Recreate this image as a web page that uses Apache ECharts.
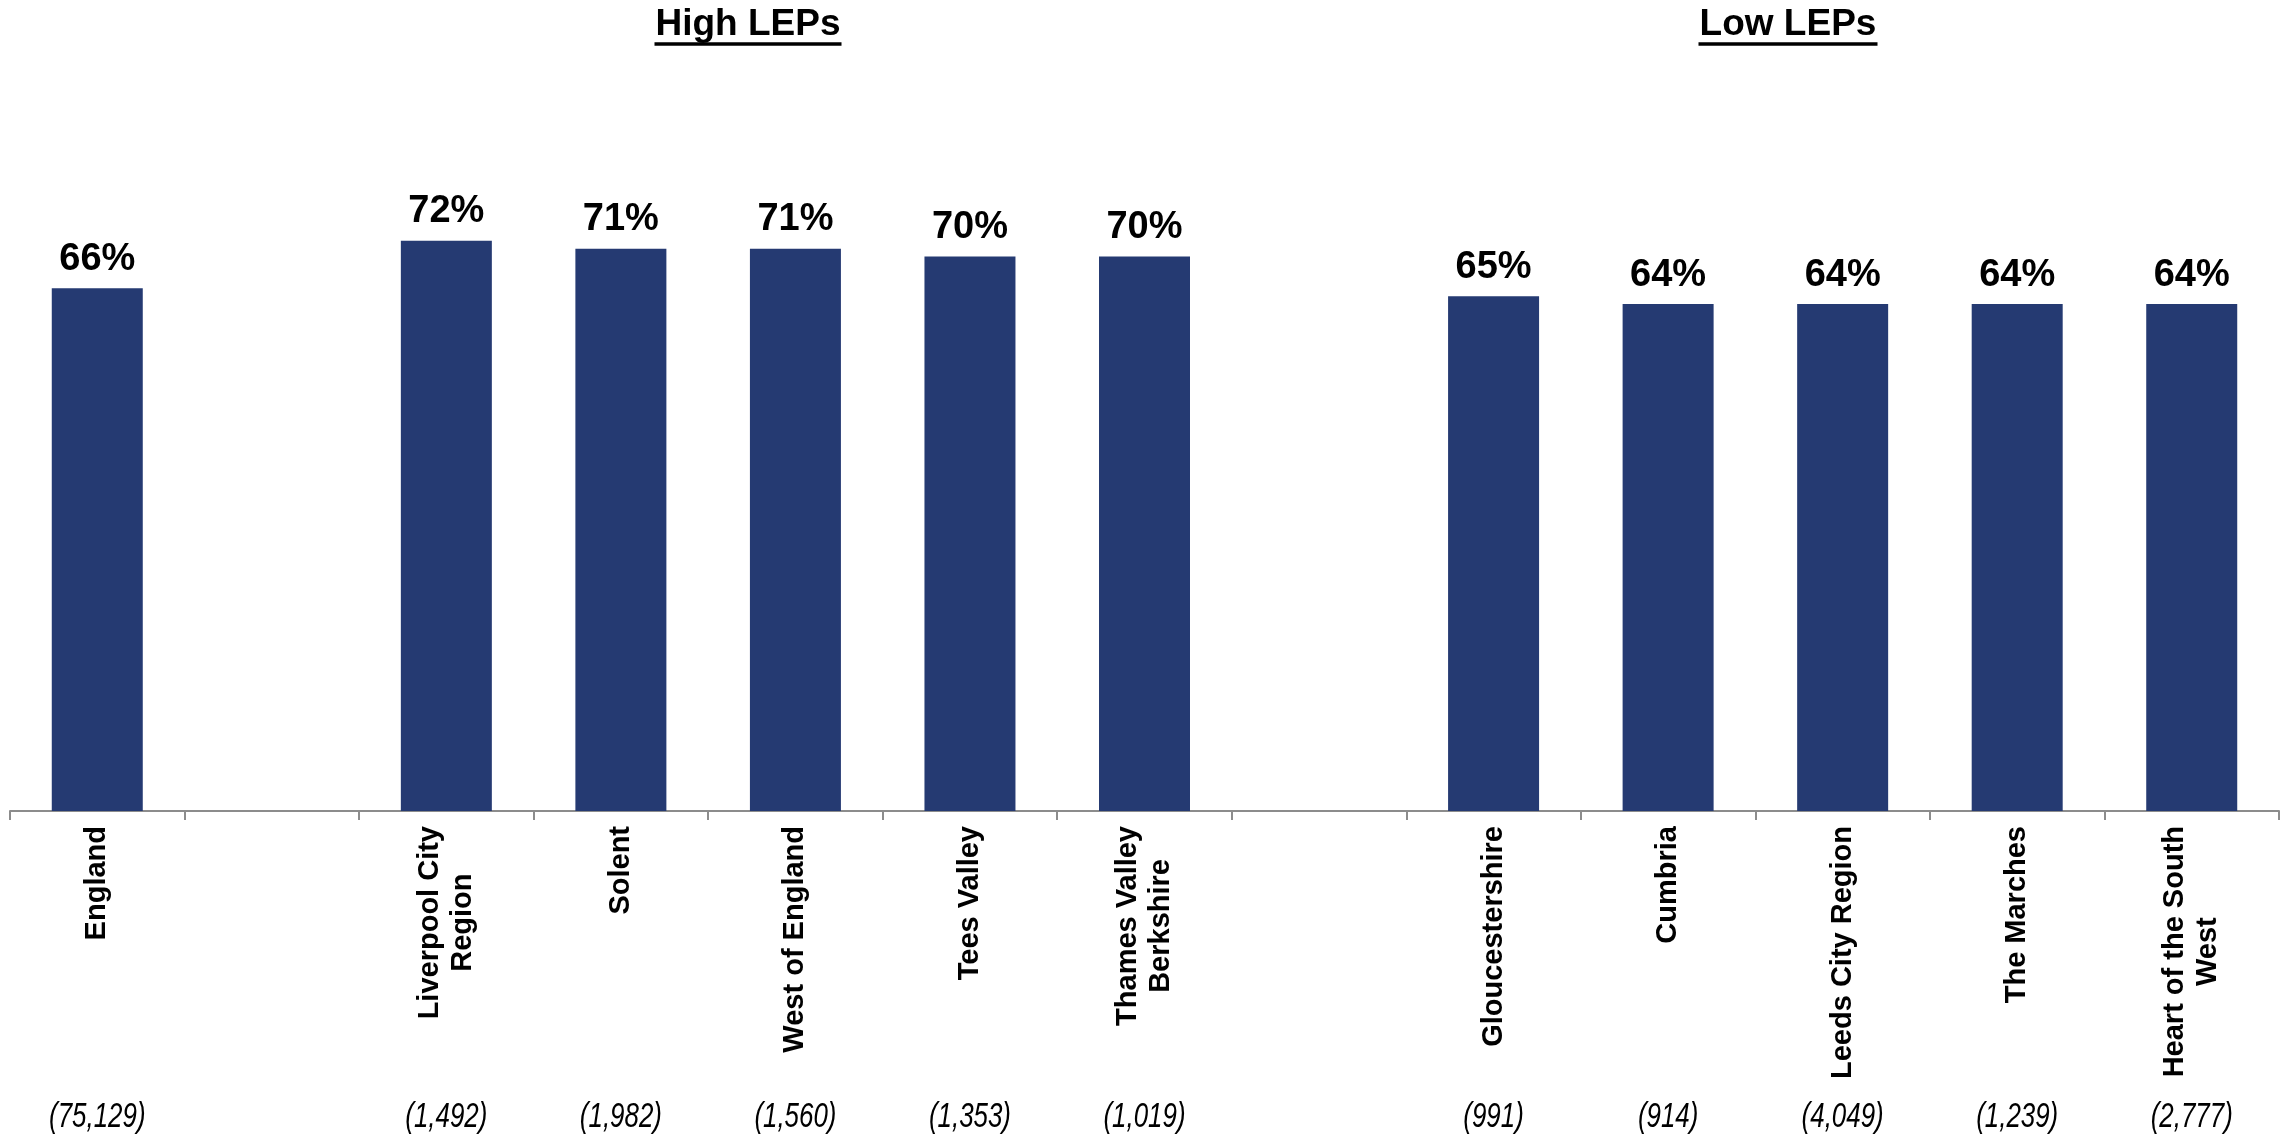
<!DOCTYPE html>
<html>
<head>
<meta charset="utf-8">
<script src="https://cdn.jsdelivr.net/npm/echarts@6/dist/echarts.min.js"></script>
<style>
  html, body { margin: 0; padding: 0; background: #ffffff; }
  #chart { width: 2283px; height: 1136px; }
</style>
</head>
<body>
<div id="chart"></div>
<script>
// Categories (empty entries are spacer slots between groups)
const categories = [
  'England', '',
  'Liverpool City\nRegion', 'Solent', 'West of England', 'Tees Valley', 'Thames Valley\nBerkshire', '',
  'Gloucestershire', 'Cumbria', 'Leeds City Region', 'The Marches', 'Heart of the South\nWest'
];
// Share (%) per category
const shares = [66, null, 72, 71, 71, 70, 70, null, 65, 64, 64, 64, 64];
// Base sizes shown under each category
const baseSizes = [
  '(75,129)', '',
  '(1,492)', '(1,982)', '(1,560)', '(1,353)', '(1,019)', '',
  '(991)', '(914)', '(4,049)', '(1,239)', '(2,777)'
];
// Group headings
const groupTitles = ['High LEPs', 'Low LEPs'];

const FONT = "'Liberation Sans', Arial, sans-serif";
const BAR = '#253a72';

const chart = echarts.init(document.getElementById('chart'), null, { renderer: 'canvas' });

function heading(text, cx, w) {
  return {
    type: 'group',
    children: [
      {
        type: 'text',
        x: cx, y: 25,
        style: {
          text: text, fill: '#000', font: 'bold 37px ' + FONT,
          textAlign: 'center', textVerticalAlign: 'middle'
        }
      },
      {
        type: 'line',
        shape: { x1: cx - w / 2, y1: 44, x2: cx + w / 2, y2: 44 },
        style: { stroke: '#000', lineWidth: 3.5 }
      }
    ]
  };
}

chart.setOption({
  animation: false,
  backgroundColor: '#ffffff',
  grid: { left: 10, right: 4, top: 19, bottom: 325, containLabel: false },
  xAxis: {
    type: 'category',
    data: categories,
    position: 'bottom',
    axisLine: { show: true, lineStyle: { color: '#8c8c8c', width: 2 } },
    axisTick: { show: true, length: 9, alignWithLabel: false, lineStyle: { color: '#8c8c8c', width: 2 } },
    axisLabel: {
      interval: 0,
      rotate: 90,
      margin: 15,
      color: '#000',
      fontFamily: FONT,
      fontWeight: 'bold',
      fontSize: 29,
      lineHeight: 33,
      formatter: function (v) {
        if (!v) return '';
        return v.split('\n').map(function (s) { return '{c|' + s + '}'; }).join('\n');
      },
      rich: {
        c: { align: 'center', fontFamily: FONT, fontWeight: 'bold', fontSize: 29, lineHeight: 33, color: '#000' }
      }
    },
    splitLine: { show: false }
  },
  yAxis: {
    type: 'value',
    min: 0,
    max: 100,
    show: false,
    splitLine: { show: false }
  },
  series: [
    {
      type: 'bar',
      data: shares,
      barWidth: 91,
      itemStyle: { color: BAR },
      label: {
        show: true,
        position: 'top',
        distance: 10,
        color: '#000',
        fontFamily: FONT,
        fontWeight: 'bold',
        fontSize: 38,
        formatter: '{c}%'
      }
    }
  ]
});

// Base-size row: condensed italic text placed under each category slot
const baseY = chart.convertToPixel({ yAxisIndex: 0 }, 0) + 306;
const baseTexts = baseSizes.map(function (t, i) {
  return {
    type: 'text',
    x: chart.convertToPixel({ xAxisIndex: 0 }, i),
    y: baseY,
    scaleX: 0.74,
    style: {
      text: t, fill: '#000', font: 'italic 35px ' + FONT,
      textAlign: 'center', textVerticalAlign: 'middle'
    }
  };
});

chart.setOption({
  graphic: [
    heading(groupTitles[0], 748, 187),
    heading(groupTitles[1], 1788, 179)
  ].concat(baseTexts)
});
</script>
</body>
</html>
